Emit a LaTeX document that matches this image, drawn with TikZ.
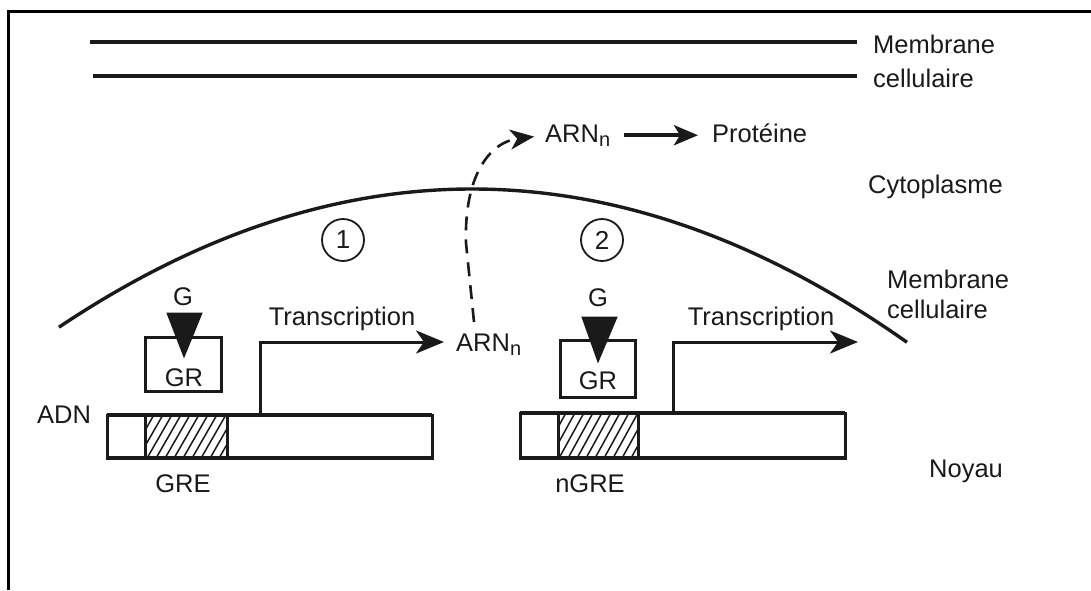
\documentclass[tikz,border=0pt]{standalone}
\usepackage{fontspec}
\setmainfont{Liberation Sans}
\usetikzlibrary{arrows.meta,calc}
\definecolor{ink}{HTML}{1A1A1A}
\begin{document}
\begin{tikzpicture}[x=1pt,y=-1pt,
  lbl/.style={font=\fontsize{25.5}{30}\selectfont, inner sep=0pt, text=ink},
  memline/.style={line width=3.4pt, draw=ink},
  boxline/.style={line width=3pt, draw=ink},
  numcirc/.style={circle, draw=ink, line width=1.8pt, minimum size=42pt, inner sep=0pt, font=\fontsize{26}{30}\selectfont, text=ink},
  bigarrow/.style={line width=3pt, draw=ink, -{Stealth[length=28pt,width=23pt,inset=8pt]}},
  ligand/.style={fill=ink, draw=ink, line width=1pt},
  hatchline/.style={line width=1.5pt, draw=ink}]
\useasboundingbox (0,0) rectangle (1091,590);
% frame
\draw[line width=3pt] (8,590) -- (8,11) -- (1091,11);
% plasma membrane
\draw[memline] (90,42) -- (857,42);
\draw[memline] (93,76) -- (857,76);
\node[lbl, anchor=base west] (mem1) at (873,53) {Membrane};
\node[lbl, anchor=base west] (cel1) at (873,87) {cellulaire};
% nuclear membrane
\draw[memline] plot[domain=59:907, samples=80, smooth] (\x, {189+8.1*((\x-472)/100)^2});
\node[lbl, anchor=base west] (cyto) at (868,193) {Cytoplasme};
\node[lbl, anchor=base west] (mem2) at (887,288) {Membrane};
\node[lbl, anchor=base west] (cel2) at (887,318) {cellulaire};
\node[lbl, anchor=base west] (noyau) at (929,477) {Noyau};
% numbers
\node[numcirc] (c1) at (343,240) {1};
\node[numcirc] (c2) at (602,240) {2};
% ADN label
\node[lbl, anchor=base west] (adn) at (37,423) {ADN};
% gene 1
\draw[boxline] (145,337) rectangle (221,391);
\node[lbl, anchor=base] (gr1) at (184,386) {GR};
\draw[ligand] (167,313) -- (202,313) -- (184,357) -- cycle;
\node[lbl, anchor=base] (g1) at (183,305) {G};
\begin{scope}
\clip (145,415) rectangle (227,458);
\foreach \i in {0,...,13} \draw[hatchline] ({128+\i*9},460) -- ({128+\i*9+27},413);
\end{scope}
\draw[boxline] (107,415) rectangle (432,458);
\draw[boxline] (145,415) -- (145,458);
\draw[boxline] (227,415) -- (227,458);
\draw[line width=4pt, draw=ink] (107,415) -- (432,415) (107,458) -- (432,458);
\node[lbl, anchor=base] (gre) at (183,492) {GRE};
\coordinate (s1) at (260,415);
\node[lbl, anchor=base] (tr1) at (342,325) {Transcription};
\node[lbl, anchor=base west] (arn1) at (456,351) {ARN\raisebox{-4pt}{\fontsize{20}{20}\selectfont n}};
\coordinate (e1) at (444,342);
\draw[bigarrow] (s1) |- (e1);
% gene 2
\draw[boxline] (560,340) rectangle (635,397);
\node[lbl, anchor=base] (gr2) at (598,389) {GR};
\draw[ligand] (582,317) -- (617,317) -- (598,362) -- cycle;
\node[lbl, anchor=base] (g2) at (598,306) {G};
\begin{scope}
\clip (558,413) rectangle (638,458);
\foreach \i in {0,...,13} \draw[hatchline] ({540+\i*9},460) -- ({540+\i*9+27},411);
\end{scope}
\draw[boxline] (520,413) rectangle (845,458);
\draw[boxline] (558,413) -- (558,458);
\draw[boxline] (638,413) -- (638,458);
\draw[line width=4pt, draw=ink] (520,413) -- (845,413) (520,458) -- (845,458);
\node[lbl, anchor=base] (ngre) at (590,492) {nGRE};
\coordinate (s2) at (673,413);
\node[lbl, anchor=base] (tr2) at (761,325) {Transcription};
\coordinate (e2) at (858,342);
\draw[bigarrow] (s2) |- (e2);
% cytoplasm
\node[lbl, anchor=base west] (arn2) at (545,142) {ARN\raisebox{-4pt}{\fontsize{20}{20}\selectfont n}};
\node[lbl, anchor=base west] (prot) at (712,142) {Protéine};
\draw[line width=4.2pt, draw=ink, shorten <=14pt, shorten >=14pt, -{Stealth[length=24pt,width=20pt,inset=6pt]}] (arn2.east) -- (arn2.east -| prot.west);
\coordinate (d0) at (474,322);
\draw[line width=2.6pt, draw=ink, dash pattern=on 14pt off 9pt, shorten >=11pt, -{Stealth[length=24pt,width=20pt,inset=7pt]}]
  (d0) -- (466,243) .. controls (464,175) and (490,142) .. (arn2.west);
\end{tikzpicture}
\end{document}
